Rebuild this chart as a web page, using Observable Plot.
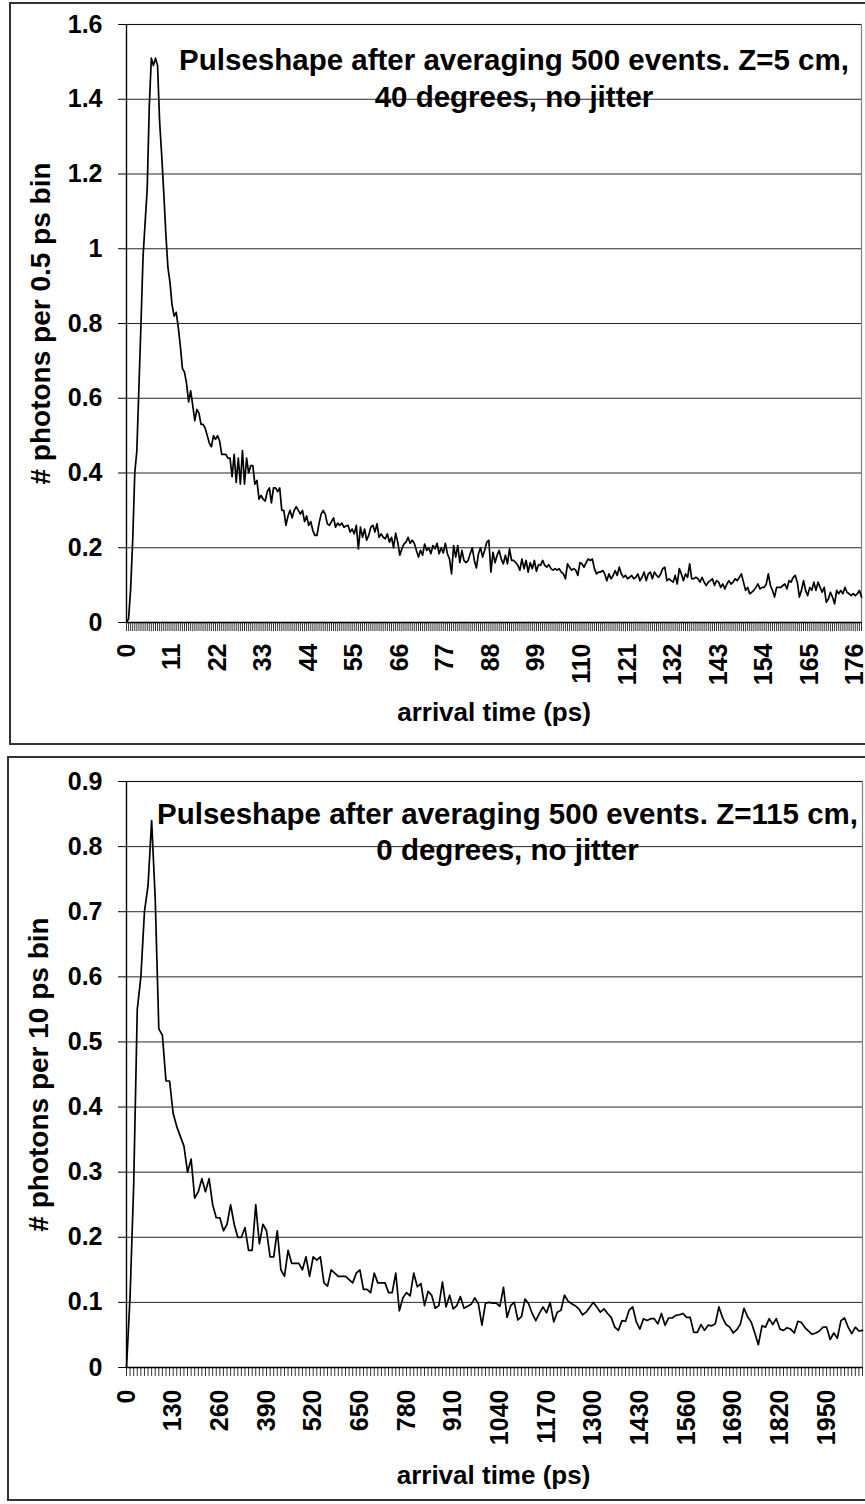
<!DOCTYPE html>
<html>
<head>
<meta charset="utf-8">
<script src="https://cdn.jsdelivr.net/npm/d3@7"></script>
<script src="https://cdn.jsdelivr.net/npm/@observablehq/plot@0.6"></script>
<style>
  html, body { margin: 0; padding: 0; background: #fff; }
  body { width: 865px; height: 1504px; position: relative; overflow: hidden; }
  .box { position: absolute; box-sizing: border-box; border: 2px solid #333; }
  .chart { position: absolute; left: 0; }
  .chart svg { overflow: visible; }
</style>
</head>
<body>
<div class="box" style="left:9px; top:2px; width:900px; height:743px;"></div>
<div class="box" style="left:7px; top:756px; width:900px; height:745px;"></div>
<div class="chart" id="c1" style="top:0px;"></div>
<div class="chart" id="c2" style="top:750px;"></div>
<script>
// ---------- chart 1 : Z=5 cm, 40 degrees, 0.5 ps bins ----------
const topTitle1 = "Pulseshape after averaging 500 events. Z=5 cm,";
const topTitle2 = "40 degrees, no jitter";
const topYLabel = "# photons per 0.5 ps bin";
const topXLabel = "arrival time (ps)";
const topBinWidth = 0.5;
const topYTicks = [0, 0.2, 0.4, 0.6, 0.8, 1, 1.2, 1.4, 1.6];
const topXTickLabels = [0, 11, 22, 33, 44, 55, 66, 77, 88, 99, 110, 121, 132, 143, 154, 165, 176];
const topValues = [
  0, 0.01, 0.09, 0.22, 0.40, 0.46, 0.63, 0.80, 0.98, 1.07,
  1.16, 1.38, 1.51, 1.49, 1.51, 1.49, 1.34, 1.25, 1.15, 1.04,
  0.95, 0.91, 0.85, 0.82, 0.83, 0.79, 0.74, 0.68, 0.67, 0.64,
  0.59, 0.62, 0.58, 0.54, 0.57, 0.56, 0.53, 0.53, 0.52, 0.50,
  0.48, 0.47, 0.50, 0.49, 0.50, 0.485, 0.45, 0.45, 0.45, 0.44,
  0.44, 0.39, 0.45, 0.375, 0.44, 0.37, 0.46, 0.37, 0.44, 0.40,
  0.42, 0.42, 0.37, 0.38, 0.33, 0.34, 0.33, 0.325, 0.35, 0.36,
  0.32, 0.36, 0.36, 0.35, 0.36, 0.30, 0.30, 0.26, 0.285, 0.30,
  0.28, 0.30, 0.31, 0.30, 0.29, 0.30, 0.27, 0.285, 0.26,
  0.27, 0.246, 0.233, 0.233, 0.265, 0.29, 0.30, 0.29, 0.264, 0.26,
  0.27, 0.28, 0.255, 0.266, 0.26, 0.266, 0.255, 0.258, 0.26, 0.242,
  0.25, 0.237, 0.26, 0.197, 0.255, 0.228, 0.25, 0.22, 0.233, 0.255,
  0.26, 0.242, 0.264, 0.228, 0.237, 0.228, 0.224, 0.237, 0.215, 0.228,
  0.20, 0.239, 0.215, 0.18, 0.197, 0.21, 0.215, 0.228, 0.212, 0.22,
  0.212, 0.193, 0.175, 0.193, 0.18, 0.21, 0.193, 0.20, 0.184, 0.206,
  0.197, 0.212, 0.184, 0.20, 0.186, 0.212, 0.184, 0.17, 0.13, 0.206,
  0.175, 0.206, 0.16, 0.193, 0.166, 0.16, 0.166, 0.184, 0.20, 0.166,
  0.146, 0.184, 0.20, 0.175, 0.193, 0.215, 0.22, 0.135, 0.188, 0.16,
  0.18, 0.193, 0.17, 0.157, 0.18, 0.157, 0.197, 0.166, 0.166, 0.16,
  0.153, 0.14, 0.17, 0.144, 0.166, 0.135, 0.16, 0.144, 0.166, 0.137,
  0.155, 0.153, 0.166, 0.153, 0.148, 0.155, 0.144, 0.14, 0.144, 0.14,
  0.144, 0.135, 0.13, 0.117, 0.157, 0.148, 0.14, 0.144, 0.14, 0.126,
  0.16, 0.157, 0.148, 0.16, 0.17, 0.166, 0.17, 0.144, 0.13, 0.135,
  0.135, 0.139, 0.13, 0.112, 0.13, 0.117, 0.125, 0.139, 0.126, 0.148,
  0.13, 0.121, 0.126, 0.117, 0.121, 0.126, 0.117, 0.121, 0.13, 0.112,
  0.121, 0.135, 0.112, 0.13, 0.135, 0.117, 0.135, 0.126, 0.121, 0.13,
  0.144, 0.148, 0.112, 0.117, 0.112, 0.108, 0.126, 0.103, 0.144, 0.13,
  0.112, 0.13, 0.121, 0.157, 0.117, 0.117, 0.121, 0.117, 0.108, 0.121,
  0.108, 0.099, 0.108, 0.112, 0.117, 0.099, 0.112, 0.108, 0.094, 0.103,
  0.09, 0.103, 0.112, 0.103, 0.108, 0.117, 0.112, 0.121, 0.13, 0.108,
  0.086, 0.094, 0.077, 0.081, 0.086, 0.094, 0.103, 0.09, 0.094, 0.094,
  0.103, 0.13, 0.099, 0.086, 0.068, 0.094, 0.094, 0.094, 0.099, 0.103,
  0.09, 0.112, 0.108, 0.121, 0.126, 0.108, 0.068, 0.086, 0.112, 0.086,
  0.072, 0.094, 0.086, 0.108, 0.086, 0.108, 0.094, 0.081, 0.094, 0.054,
  0.063, 0.081, 0.068, 0.05, 0.086, 0.077, 0.086, 0.077, 0.094, 0.081,
  0.077, 0.072, 0.077, 0.072, 0.077, 0.086, 0.068
];

// ---------- chart 2 : Z=115 cm, 0 degrees, 10 ps bins ----------
const botTitle1 = "Pulseshape after averaging 500 events. Z=115 cm,";
const botTitle2 = "0 degrees, no jitter";
const botYLabel = "# photons per 10 ps bin";
const botXLabel = "arrival time (ps)";
const botBinWidth = 10;
const botYTicks = [0, 0.1, 0.2, 0.3, 0.4, 0.5, 0.6, 0.7, 0.8, 0.9];
const botXTickLabels = [0, 130, 260, 390, 520, 650, 780, 910, 1040, 1170, 1300, 1430, 1560, 1690, 1820, 1950];
const botValues = [
  0, 0.11, 0.28, 0.55, 0.60, 0.70, 0.74, 0.84, 0.72, 0.52,
  0.51, 0.44, 0.44, 0.39, 0.37, 0.355, 0.34, 0.30, 0.32, 0.26,
  0.27, 0.29, 0.27, 0.29, 0.25, 0.23, 0.23, 0.21, 0.22, 0.25,
  0.22, 0.20, 0.20, 0.215, 0.18, 0.18, 0.25, 0.19, 0.22, 0.21,
  0.17, 0.17, 0.21, 0.15, 0.14, 0.18, 0.16, 0.16, 0.16, 0.15,
  0.17, 0.14, 0.17, 0.165, 0.17, 0.13, 0.125, 0.15, 0.145, 0.14,
  0.14, 0.14, 0.135, 0.13, 0.145, 0.15, 0.12, 0.12, 0.115, 0.145,
  0.13, 0.13, 0.13, 0.115, 0.115, 0.145, 0.087, 0.107, 0.115, 0.11,
  0.145,
  0.124, 0.129, 0.095, 0.117, 0.111, 0.091, 0.095, 0.131, 0.093, 0.111,
  0.090, 0.095, 0.109, 0.091, 0.094, 0.097, 0.107, 0.098, 0.065, 0.099,
  0.100, 0.099, 0.099, 0.094, 0.123, 0.077, 0.095, 0.100, 0.073, 0.078,
  0.105, 0.098, 0.083, 0.072, 0.083, 0.093, 0.084, 0.100, 0.070, 0.085,
  0.088, 0.111, 0.102, 0.098, 0.095, 0.090, 0.081, 0.085, 0.092, 0.100,
  0.093, 0.085, 0.090, 0.083, 0.077, 0.062, 0.057, 0.072, 0.071, 0.088,
  0.093, 0.070, 0.059, 0.075, 0.072, 0.075, 0.075, 0.067, 0.083, 0.065,
  0.076, 0.076, 0.080, 0.081, 0.083, 0.077, 0.077, 0.054, 0.054, 0.066,
  0.057, 0.065, 0.064, 0.067, 0.093, 0.077, 0.066, 0.062, 0.053, 0.058,
  0.067, 0.091, 0.078, 0.070, 0.053, 0.035, 0.064, 0.062, 0.075, 0.066,
  0.075, 0.059, 0.057, 0.061, 0.059, 0.053, 0.071, 0.069, 0.061, 0.056,
  0.051, 0.053, 0.056, 0.062, 0.062, 0.043, 0.053, 0.045, 0.072, 0.076,
  0.062, 0.052, 0.062, 0.056,
  0.057
];

const FONT = "'Liberation Sans', Arial, Helvetica, sans-serif";

function pulseChart(cfg) {
  const times = cfg.values.map((_, i) => i * cfg.binWidth);
  const data = cfg.values.map((v, i) => ({t: times[i], v}));
  const xMax = times[times.length - 1];
  const textBase = {text: d => d, fontWeight: "bold", lineAnchor: "middle"};
  return Plot.plot({
    width: 865,
    height: cfg.height,
    marginLeft: 126,
    marginRight: cfg.marginRight,
    marginTop: cfg.marginTop,
    marginBottom: cfg.marginBottom,
    style: {fontFamily: FONT, fontWeight: "bold", color: "#000", background: "transparent", overflow: "visible"},
    x: {domain: [0, xMax], axis: null},
    y: {domain: [0, cfg.yMax], axis: null},
    marks: [
      Plot.frame({stroke: "#808080", strokeWidth: 1.2}),
      Plot.gridY({ticks: cfg.yTicks, stroke: "#000", strokeOpacity: 0.85, strokeWidth: 1}),
      Plot.line(data, {x: "t", y: "v", stroke: "#000", strokeWidth: 1.7}),
      Plot.ruleX([0], {stroke: "#000", strokeWidth: 1.3}),
      Plot.ruleY([0], {stroke: "#000", strokeWidth: 1.3}),
      Plot.axisY({ticks: cfg.yTicks, tickSize: 8, tickPadding: 16, fontSize: 25, fontWeight: "bold",
                  tickFormat: d => String(d), label: null}),
      Plot.axisX({ticks: times, tickSize: 9, tickFormat: () => "", label: null, strokeOpacity: 0.8}),
      Plot.axisX({ticks: cfg.xTickLabels, tickSize: 0, tickPadding: cfg.xTickPad, tickRotate: -90, fontSize: 25,
                  fontWeight: "bold", tickFormat: d => String(d), label: null}),
      Plot.text([cfg.yLabel], {...textBase, frameAnchor: "left", textAnchor: "middle", dx: cfg.yLabelDx, rotate: -90, fontSize: 28}),
      Plot.text([cfg.xLabel], {...textBase, frameAnchor: "bottom", textAnchor: "middle", dx: cfg.xLabelDx, dy: cfg.xLabelDy, fontSize: 26}),
      Plot.text([cfg.title1], {...textBase, frameAnchor: "top", textAnchor: "middle", dx: cfg.titleDx, dy: cfg.titleDy1, fontSize: 29.5}),
      Plot.text([cfg.title2], {...textBase, frameAnchor: "top", textAnchor: "middle", dx: cfg.titleDx, dy: cfg.titleDy2, fontSize: 29.5})
    ]
  });
}

document.getElementById("c1").appendChild(pulseChart({
  values: topValues, binWidth: topBinWidth, yMax: 1.6, yTicks: topYTicks, xTickLabels: topXTickLabels,
  yLabel: topYLabel, xLabel: topXLabel, title1: topTitle1, title2: topTitle2,
  height: 748, marginTop: 24, marginBottom: 126, marginRight: 4, xTickPad: 21, yLabelDx: -85,
  xLabelDx: 0, xLabelDy: 90, titleDx: 20, titleDy1: 36, titleDy2: 73
}));

document.getElementById("c2").appendChild(pulseChart({
  values: botValues, binWidth: botBinWidth, yMax: 0.9, yTicks: botYTicks, xTickLabels: botXTickLabels,
  yLabel: botYLabel, xLabel: botXLabel, title1: botTitle1, title2: botTitle2,
  height: 754, marginTop: 31, marginBottom: 137, marginRight: 3, xTickPad: 22, yLabelDx: -87,
  xLabelDx: -1, xLabelDy: 108, titleDx: 13, titleDy1: 33, titleDy2: 69
}));
</script>
</body>
</html>
